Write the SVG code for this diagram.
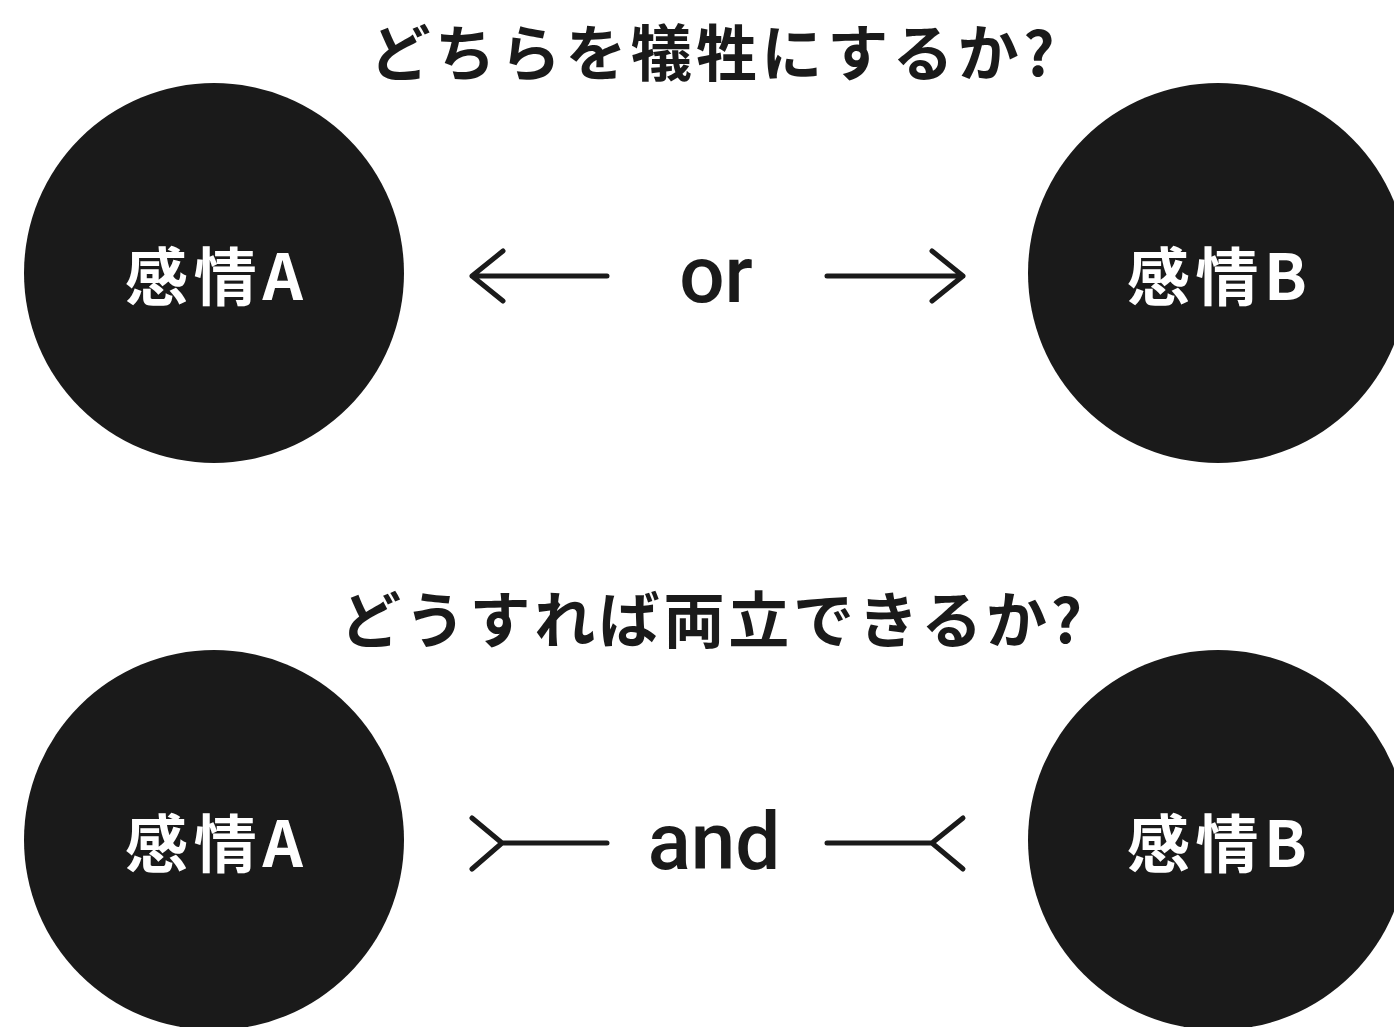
<svg xmlns="http://www.w3.org/2000/svg" width="1394" height="1027" viewBox="0 0 1394 1027">
<style>
.node{fill:#1a1a1a}
.lbl{fill:#ffffff;font-family:"Noto Sans CJK JP","Noto Sans",sans-serif;font-weight:700;font-size:63px;text-anchor:middle}
.title{fill:#1a1a1a;font-family:"Noto Sans CJK JP","Noto Sans",sans-serif;font-weight:700;font-size:61px;text-anchor:middle}
.op{fill:#1a1a1a;font-family:Roboto,"Noto Sans",sans-serif;font-weight:500;font-size:80px;text-anchor:middle}
.con{fill:none;stroke:#1a1a1a;stroke-width:5;stroke-linecap:round;stroke-linejoin:round}
</style>
<rect width="1394" height="1027" fill="#ffffff"/>
<text class="title" x="712" y="76" textLength="685" lengthAdjust="spacing">どちらを犠牲にするか?</text>
<text class="title" x="711" y="643" textLength="742" lengthAdjust="spacing">どうすれば両立できるか?</text>
<g id="nodeA1"><circle class="node" cx="214" cy="273" r="190"/><text class="lbl" x="214" y="300" textLength="178" lengthAdjust="spacing">感情A</text></g>
<g id="nodeB1"><circle class="node" cx="1218" cy="273" r="190"/><text class="lbl" x="1217" y="300" textLength="180" lengthAdjust="spacing">感情B</text></g>
<g id="nodeA2"><circle class="node" cx="214" cy="840" r="190"/><text class="lbl" x="214" y="867" textLength="178" lengthAdjust="spacing">感情A</text></g>
<g id="nodeB2"><circle class="node" cx="1218" cy="840" r="190"/><text class="lbl" x="1217" y="867" textLength="180" lengthAdjust="spacing">感情B</text></g>
<g id="connectors">
<path class="con" d="M607 276H472M503 251L472 276L503 301"/>
<path class="con" d="M827 276H963M932 251L963 276L932 301"/>
<text class="op" x="716" y="302">or</text>
<path class="con" d="M607 843H502M472 818L502 843L472 869"/>
<path class="con" d="M827 843H932M963 818L932 843L963 869"/>
<text class="op" x="714" y="869">and</text>
</g>
</svg>
